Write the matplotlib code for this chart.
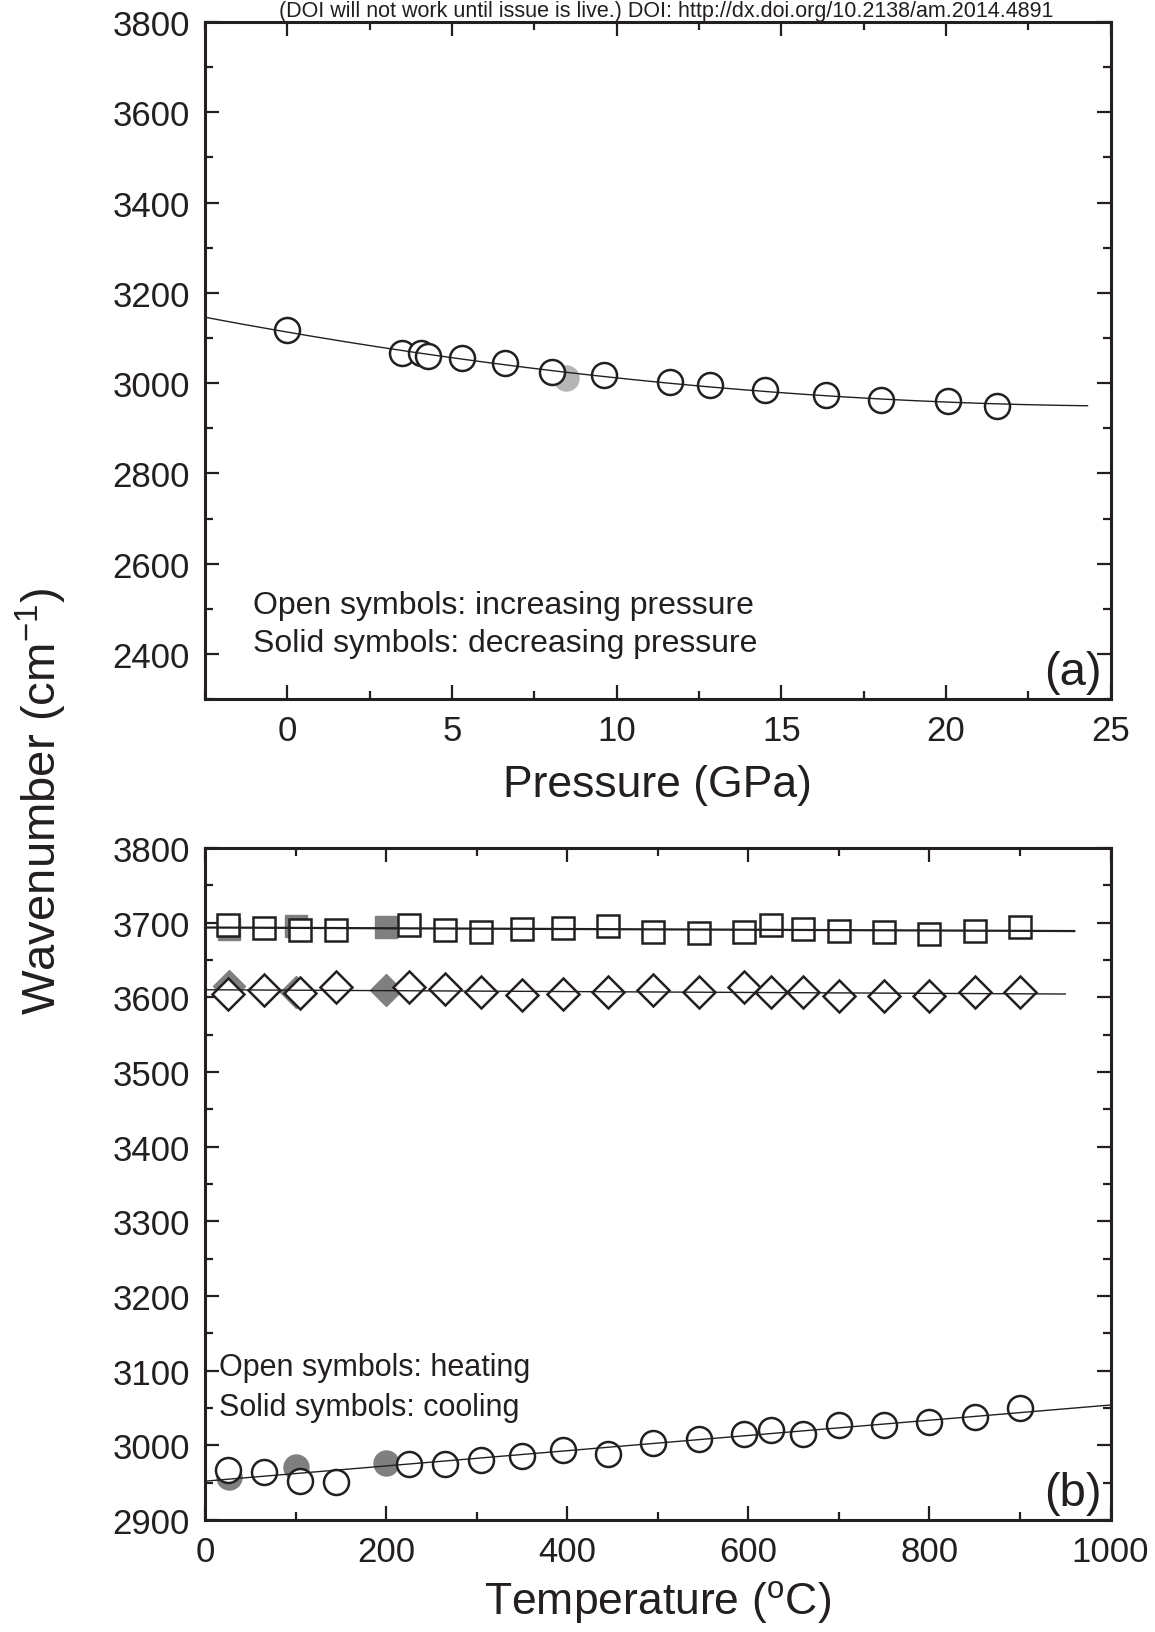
import numpy as np
import matplotlib
matplotlib.use("Agg")
import matplotlib.pyplot as plt
from matplotlib.ticker import MultipleLocator

plt.rcParams['font.family'] = ['Liberation Sans', 'DejaVu Sans']
plt.rcParams['mathtext.fontset'] = 'custom'
plt.rcParams['mathtext.rm'] = 'Liberation Sans'
plt.rcParams['mathtext.it'] = 'Liberation Sans:italic'

INK = "#231f20"

# ===== (a) pressure data =====
p_open = [0.0, 3.49, 4.07, 4.27, 5.30, 6.62, 8.04, 9.61, 11.63, 12.83,
          14.50, 16.36, 18.04, 20.05, 21.56]
w_open = [3118.7, 3066.4, 3067.0, 3059.8, 3055.4, 3045.0, 3024.4, 3018.4,
          3002.2, 2996.9, 2985.2, 2973.4, 2963.0, 2959.3, 2950.4]
p_solid = [8.45]
w_solid = [3011.0]

# ===== (b) temperature data =====
t_open = [25, 65, 105, 145, 225, 265, 305, 350, 395, 445, 495, 545, 595,
          625, 660, 700, 750, 800, 850, 900]
sq_open = [3697, 3693, 3690, 3690, 3697, 3690, 3688, 3692, 3693, 3696,
           3688, 3686, 3688, 3697, 3692, 3689, 3688, 3685, 3689, 3694]
di_open = [3604.4, 3609.8, 3606.0, 3613.5, 3613.5, 3611.0, 3606.7, 3603.0,
           3604.0, 3606.7, 3609.8, 3606.7, 3613.5, 3607.6, 3607.6, 3602.0,
           3602.0, 3602.0, 3606.7, 3606.7]
ci_open = [2966.5, 2964.0, 2952.0, 2951.0, 2974.5, 2975.4, 2980.0, 2985.6,
           2993.7, 2988.0, 3003.5, 3008.0, 3014.9, 3020.3, 3014.9, 3027.0,
           3027.0, 3031.5, 3038.3, 3050.4]
t_solid = [27, 100, 200]
sq_solid = [3692, 3695, 3694]
di_solid = [3615.0, 3607.6, 3609.8]
ci_solid = [2958.0, 2971.5, 2976.0]

fig = plt.figure(figsize=(11.55, 16.33), dpi=100)
ax1 = fig.add_axes([0.1775, 0.5713, 0.784, 0.4146])
ax2 = fig.add_axes([0.1775, 0.0686, 0.784, 0.4115])


def style_axes(ax):
    for s in ax.spines.values():
        s.set_linewidth(2.2)
        s.set_color(INK)
    ax.tick_params(which='both', direction='in', top=True, right=True,
                   colors=INK, labelsize=25, width=1.6)
    ax.tick_params(which='major', length=10, pad=11)
    ax.tick_params(which='minor', length=5.5)


# ----- panel (a) -----
fit_a = np.polyfit(p_open + p_solid, w_open + w_solid, 2)
pp = np.linspace(-2.5, 24.3, 200)
ax1.plot(p_solid, w_solid, 'o', ms=18, color='#b5b5b5', mec='#b5b5b5', zorder=2)
ax1.plot(p_open, w_open, 'o', ms=18, mfc='white', mec=INK, mew=1.8, zorder=3)
ax1.plot(pp, np.polyval(fit_a, pp), color=INK, lw=1.0, zorder=4)
ax1.set_xlim(-2.5, 25)
ax1.set_ylim(2300, 3800)
ax1.xaxis.set_major_locator(MultipleLocator(5))
ax1.xaxis.set_minor_locator(MultipleLocator(2.5))
ax1.yaxis.set_major_locator(MultipleLocator(200))
ax1.yaxis.set_minor_locator(MultipleLocator(100))
style_axes(ax1)
ax1.set_xlabel("Pressure (GPa)", fontsize=32, color=INK, labelpad=12)
ax1.text(0.053, 0.139, "Open symbols: increasing pressure", transform=ax1.transAxes,
         fontsize=23, color=INK, va='center')
ax1.text(0.053, 0.083, "Solid symbols: decreasing pressure", transform=ax1.transAxes,
         fontsize=23, color=INK, va='center')
ax1.text(0.99, 0.008, "(a)", transform=ax1.transAxes, fontsize=34, color=INK,
         ha='right', va='bottom')

# ----- panel (b) -----
gray_b = '#7f7f7f'
ax2.plot(t_solid, sq_solid, 's', ms=16.5, color=gray_b, zorder=2)
ax2.plot(t_solid, di_solid, 'D', ms=16, color=gray_b, zorder=2)
ax2.plot(t_solid, ci_solid, 'o', ms=18, color=gray_b, zorder=2)
ax2.plot(t_open, sq_open, 's', ms=16.5, mfc='white', mec=INK, mew=1.8, zorder=3)
ax2.plot(t_open, di_open, 'D', ms=16, mfc='white', mec=INK, mew=1.8, zorder=3)
ax2.plot(t_open, ci_open, 'o', ms=18, mfc='white', mec=INK, mew=1.8, zorder=3)

t_all = t_open + t_solid
for vals_o, vals_s, tmax, lw in [(sq_open, sq_solid, 960, 1.6),
                                 (di_open, di_solid, 950, 1.0),
                                 (ci_open, ci_solid, 1000, 1.0)]:
    k = np.polyfit(t_all, vals_o + vals_s, 1)
    tt = np.array([0, tmax])
    ax2.plot(tt, np.polyval(k, tt), color=INK, lw=lw, zorder=4)

ax2.set_xlim(0, 1000)
ax2.set_ylim(2900, 3800)
ax2.xaxis.set_major_locator(MultipleLocator(200))
ax2.xaxis.set_minor_locator(MultipleLocator(100))
ax2.yaxis.set_major_locator(MultipleLocator(100))
ax2.yaxis.set_minor_locator(MultipleLocator(50))
style_axes(ax2)
ax2.set_xlabel("Temperature ($^{\\mathrm{o}}$C)", fontsize=32, color=INK, labelpad=7)
ax2.text(0.015, 0.227, "Open symbols: heating", transform=ax2.transAxes,
         fontsize=22, color=INK, va='center')
ax2.text(0.015, 0.168, "Solid symbols: cooling", transform=ax2.transAxes,
         fontsize=22, color=INK, va='center')
ax2.text(0.99, 0.008, "(b)", transform=ax2.transAxes, fontsize=34, color=INK,
         ha='right', va='bottom')

fig.text(0.036, 0.509, "Wavenumber (cm$^{-1}$)", rotation=90, fontsize=34,
         color=INK, ha='center', va='center')
fig.text(0.577, 0.9995, "(DOI will not work until issue is live.) DOI: http://dx.doi.org/10.2138/am.2014.4891",
         fontsize=15.5, color=INK, ha='center', va='top')

fig.savefig("out.png", dpi=100)
